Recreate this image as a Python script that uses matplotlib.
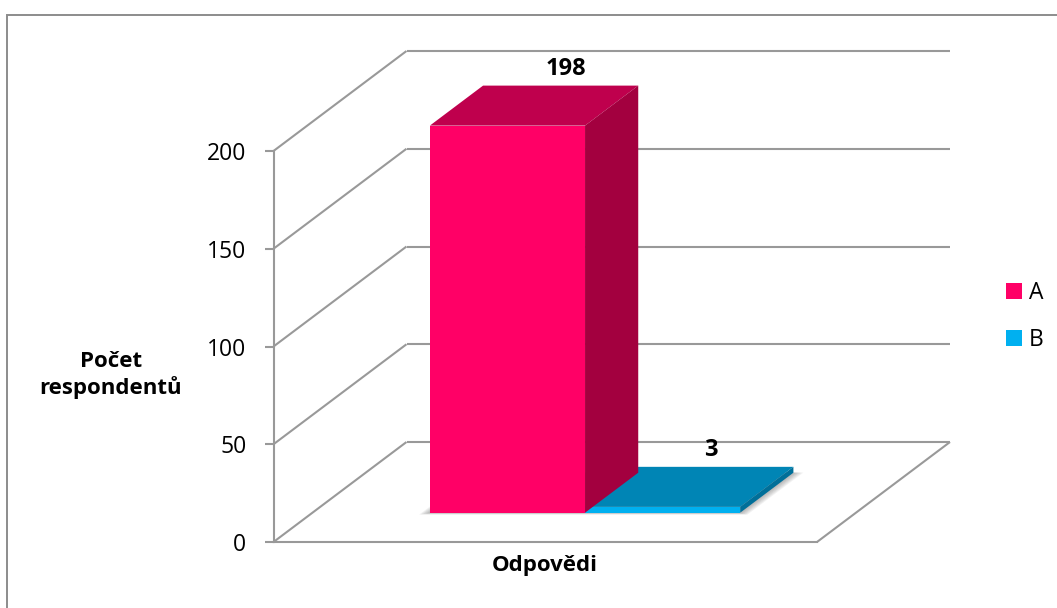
import matplotlib
matplotlib.use("Agg")
import matplotlib.pyplot as plt
from matplotlib.lines import Line2D
from matplotlib.patches import Patch, Polygon

plt.rcParams["font.family"] = ["Open Sans", "DejaVu Sans"]

categories = ["A", "B"]
values = [198, 3]
y_ticks = [0, 50, 100, 150, 200]
y_label = "Počet\nrespondentů"
x_label = "Odpovědi"

front_colors = ["#FF0066", "#00B0F0"]
top_colors = ["#BF004D", "#0085B5"]
side_colors = ["#A3003F", "#006F99"]
GRID = "#999999"
LINE_W = 1.5

W, H, DPI = 1057, 608, 100
LEFT, RIGHT, BOTTOM, TOP = 273.5, 817.0, 542.0, 151.0

# Oblique depth of the chart box, in axes data units per unit of depth
DEPTH_X = 133.0 / (RIGHT - LEFT)
DEPTH_Y = 100.0 / ((BOTTOM - TOP) / 200.0)

# Bar layout inside the box
GAP = 0.216
BAR_W = 0.2855
Z0, Z1 = 0.293, 0.693

fig = plt.figure(figsize=(W / DPI, H / DPI), dpi=DPI, facecolor="white")
ax = fig.add_axes([LEFT / W, 1 - BOTTOM / H, (RIGHT - LEFT) / W, (BOTTOM - TOP) / H])
ax.set_xlim(0, 1)
ax.set_ylim(0, 200)
ax.patch.set_visible(False)


def proj(x, v, z):
    """Oblique projection of a box point onto the axes plane."""
    return x + z * DEPTH_X, v + z * DEPTH_Y


def seg(p, q, **kw):
    a, b = proj(*p), proj(*q)
    ax.plot([a[0], b[0]], [a[1], b[1]], color=GRID, lw=LINE_W, clip_on=False,
            solid_capstyle="butt", **kw)


def face(points, color, z=3.0, alpha=1.0):
    ax.add_patch(Polygon([proj(*p) for p in points], closed=True, facecolor=color,
                         edgecolor="none", clip_on=False, zorder=z, alpha=alpha))


# Walls and floor of the chart box
for t in y_ticks:
    seg((0, t, 0), (0, t, 1))
    seg((0, t, 1), (1, t, 1))
seg((1, 0, 0), (1, 0, 1))

for name in ("top", "right"):
    ax.spines[name].set_visible(False)
for name in ("left", "bottom"):
    ax.spines[name].set_color(GRID)
    ax.spines[name].set_linewidth(LINE_W)

ax.set_xticks([])
ax.set_yticks(y_ticks)
ax.tick_params(axis="y", length=6.5, width=LINE_W, color=GRID, pad=13, labelsize=16.5,
               labelcolor="black")

# Soft shadow on the floor under the bars
x_a = GAP
x_b = GAP + 2 * BAR_W
for k in range(1, 7):
    m = k * 0.0025
    face([(x_a - 1.0 * m, 0, Z0 - 1.3 * m), (x_b + 1.2 * m, 0, Z0 - 1.3 * m),
          (x_b + 1.2 * m, 0, Z1 + 0.1 * m), (x_a - 1.0 * m, 0, Z1 + 0.1 * m)],
         "#555555", z=2.0, alpha=0.08)

# Bars are painted right to left so the nearer side faces stay on top
for i in reversed(range(len(values))):
    v = values[i]
    x0 = GAP + i * BAR_W
    x1 = x0 + BAR_W
    face([(x0, v, Z0), (x1, v, Z0), (x1, v, Z1), (x0, v, Z1)], top_colors[i])
    face([(x1, 0, Z0), (x1, v, Z0), (x1, v, Z1), (x1, 0, Z1)], side_colors[i])
    face([(x0, 0, Z0), (x1, 0, Z0), (x1, v, Z0), (x0, v, Z0)], front_colors[i])
    label_pos = proj((x0 + x1) / 2, v, Z1)
    ax.annotate(str(v), xy=label_pos, xytext=(3.5 if i == 0 else -3.5, 3.5 if i == 0 else 3.5),
                textcoords="offset points", ha="center", va="bottom",
                fontsize=17, fontweight="bold", color="black", zorder=5,
                annotation_clip=False)

ax.set_xlabel(x_label, fontsize=16, fontweight="bold", color="black")
ax.xaxis.set_label_coords(545 / W, 1 - 565 / H, transform=fig.transFigure)
ax.xaxis.label.set_va("center")
ax.set_ylabel(y_label, fontsize=16, fontweight="bold", color="black", rotation=0,
              ha="center", va="center", linespacing=1.2)
ax.yaxis.set_label_coords(111 / W, 1 - 375 / H, transform=fig.transFigure)

# Outer chart frame, running off the top right and bottom left
fig.add_artist(Line2D([7 / W, 7 / W, 1], [0, 1 - 15 / H, 1 - 15 / H], color="#8C8C8C", lw=1.4,
                      solid_joinstyle="miter"))

handles = [Patch(facecolor=c, edgecolor="none") for c in front_colors]
fig.legend(handles, categories, loc="upper left", frameon=False, fontsize=16.5,
           bbox_to_anchor=(1006 / W, 1 - 281 / H), bbox_transform=fig.transFigure,
           borderpad=0, borderaxespad=0, handlelength=0.7, handleheight=0.7,
           handletextpad=0.3, labelspacing=1.0)

fig.savefig("out.png", dpi=DPI, facecolor="white")
